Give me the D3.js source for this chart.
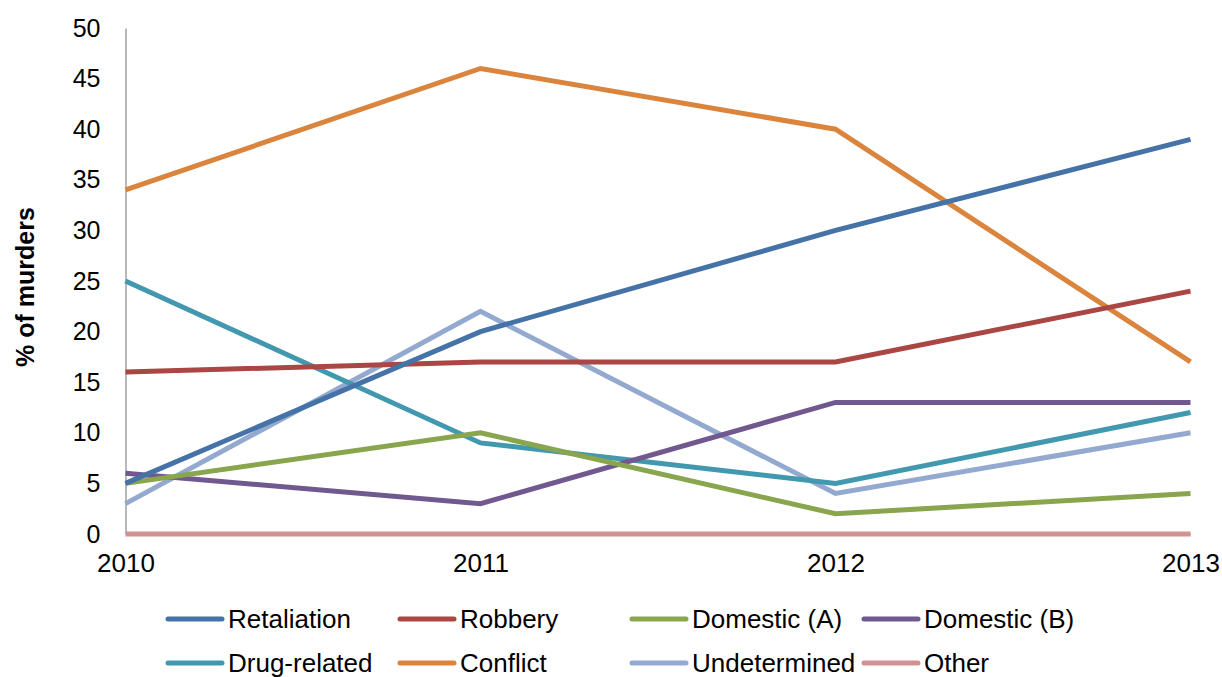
<!DOCTYPE html>
<html><head><meta charset="utf-8">
<script src="https://cdn.jsdelivr.net/npm/d3@7"></script>
<style>body{margin:0;background:#fff;}svg{display:block;font-family:"Liberation Sans",Arial,sans-serif;}</style>
</head><body>
<svg id="c" width="1222" height="677"></svg>
<script>
const years = [2010, 2011, 2012, 2013];
const seriesNames = ["Retaliation","Robbery","Domestic (A)","Domestic (B)","Drug-related","Conflict","Undetermined","Other"];
const retaliation = [5, 20, 30, 39];
const robbery = [16, 17, 17, 24];
const domesticA = [5, 10, 2, 4];
const domesticB = [6, 3, 13, 13];
const drugRelated = [25, 9, 5, 12];
const conflict = [34, 46, 40, 17];
const undetermined = [3, 22, 4, 10];
const other = [0, 0, 0, 0];
const yTicks = [0,5,10,15,20,25,30,35,40,45,50];
const colors = ["#4572A7","#AA4643","#89A54E","#71588F","#4198AF","#DB843D","#93A9CF","#D19392"];

const values = [retaliation, robbery, domesticA, domesticB, drugRelated, conflict, undetermined, other];
const series = seriesNames.map((n,i)=>({name:n, values:values[i], color:colors[i]}));

const svg = d3.select("#c");
const x = d3.scaleLinear().domain([2010,2013]).range([125.5,1190.5]);
const y = d3.scaleLinear().domain([0,50]).range([534,28]);

// axes
const yAxis = d3.axisLeft(y).tickValues(yTicks).tickSize(0).tickPadding(25);
const gy = svg.append("g").attr("transform","translate(125.5,0)").call(yAxis);
gy.select(".domain").attr("stroke","#A0A0A0").attr("stroke-width",1.5);
gy.selectAll("text").attr("font-size",25).attr("fill","#000").attr("font-family","Liberation Sans, Arial, sans-serif");

const xAxis = d3.axisBottom(x).tickValues(years).tickFormat(d3.format("d")).tickSize(0).tickPadding(20);
const gx = svg.append("g").attr("transform","translate(0,534)").call(xAxis);
gx.select(".domain").attr("stroke","#A0A0A0").attr("stroke-width",1.5);
gx.selectAll("text").attr("font-size",26).attr("fill","#000").attr("font-family","Liberation Sans, Arial, sans-serif");

// y label
svg.append("text").attr("transform","translate(34,287) rotate(-90)")
  .attr("text-anchor","middle").attr("font-size",25).attr("font-weight","bold").text("% of murders");

// lines
const line = d3.line().x((d,i)=>x(years[i])).y(d=>y(d));
svg.append("g").selectAll("path").data(series.slice().reverse()).join("path")
  .attr("d",d=>line(d.values)).attr("fill","none").attr("stroke",d=>d.color)
  .attr("stroke-width",5).attr("stroke-linejoin","miter");

// legend
const legX = [168, 400, 632, 864];
const legY = [619, 663];
const lg = svg.append("g").selectAll("g").data(series).join("g")
  .attr("transform",(d,i)=>`translate(${legX[i%4]},${legY[Math.floor(i/4)]})`);
lg.append("line").attr("x1",0).attr("x2",54).attr("y1",0).attr("y2",0)
  .attr("stroke",d=>d.color).attr("stroke-width",5).attr("stroke-linecap","round");
lg.append("text").attr("x",60).attr("y",0).attr("dy","0.35em").attr("font-size",26).text(d=>d.name);
</script>
</body></html>
